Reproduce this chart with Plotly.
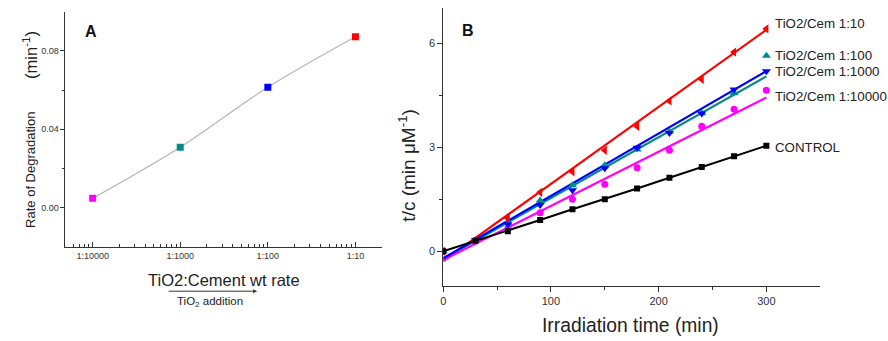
import plotly.graph_objects as go

# ---------------- Data: panel A ----------------
ratio_vals = [1e-4, 1e-3, 1e-2, 1e-1]
ratio_labels = ["1:10000", "1:1000", "1:100", "1:10"]
rate_vals = [0.0047, 0.0308, 0.0614, 0.0872]
rate_colors = ["#ff00ff", "#008b8b", "#0000ff", "#ff0000"]

# ---------------- Data: panel B ----------------
time_min = [0, 30, 60, 90, 120, 150, 180, 210, 240, 270, 300]
control = [0.0, 0.30, 0.58, 0.90, 1.21, 1.50, 1.81, 2.12, 2.43, 2.74, 3.04]
cem_10 = [0.0, 0.33, 0.95, 1.70, 2.29, 2.91, 3.60, 4.33, 4.95, 5.74, 6.41]
cem_100 = [0.0, 0.32, 0.82, 1.46, 1.90, 2.48, 2.93, 3.45, 3.98, 4.55, 5.63]
cem_1000 = [0.0, 0.32, 0.78, 1.33, 1.76, 2.39, 2.98, 3.41, 3.97, 4.66, 5.19]
cem_10000 = [0.0, 0.30, 0.66, 1.11, 1.50, 1.93, 2.41, 2.91, 3.60, 4.09, 4.64]

fit_x = [0, 300]
fit_10 = [-0.28, 6.38]
fit_100 = [-0.22, 5.04]
fit_1000 = [-0.20, 5.19]
fit_10000 = [-0.25, 4.43]

label_x = 306
series_labels = ["TiO2/Cem 1:10", "TiO2/Cem 1:100", "TiO2/Cem 1:1000", "TiO2/Cem 1:10000", "CONTROL"]
label_y = [6.56, 5.65, 5.17, 4.45, 2.98]

W, H = 888, 341
FONT = "Arial, Liberation Sans, sans-serif"
AX = "#333333"

def px(x):
    return x / W

def py(y):
    return 1 - y / H

fig = go.Figure()

# Panel A
fig.add_trace(go.Scatter(x=ratio_vals, y=rate_vals, mode="lines", line=dict(color="#b5b5b5", width=1.2, shape="spline"),
                         xaxis="x", yaxis="y", showlegend=False, hoverinfo="skip"))
fig.add_trace(go.Scatter(x=ratio_vals, y=rate_vals, mode="markers",
                         marker=dict(symbol="square", size=7, color=rate_colors),
                         xaxis="x", yaxis="y", showlegend=False))

# Panel B fits
fits = [(fit_10, "#ff0000"), (fit_100, "#008b8b"), (fit_10000, "#ff00ff"), (fit_1000, "#0000ff")]
for vals, col in fits:
    fig.add_trace(go.Scatter(x=fit_x, y=vals, mode="lines", line=dict(color=col, width=2.2),
                             xaxis="x2", yaxis="y2", showlegend=False))
# Panel B markers
pts = [(cem_10000, "#ff00ff", "circle", 7), (cem_100, "#008b8b", "triangle-up", 8),
       (cem_1000, "#0000ff", "triangle-down", 8), (cem_10, "#ff0000", "triangle-left", 8)]
for vals, col, sym, sz in pts:
    fig.add_trace(go.Scatter(x=time_min, y=vals, mode="markers",
                             marker=dict(symbol=sym, size=sz, color=col),
                             xaxis="x2", yaxis="y2", showlegend=False))
fig.add_trace(go.Scatter(x=time_min, y=control, mode="lines+markers",
                         line=dict(color="#000000", width=2),
                         marker=dict(symbol="square", size=6, color="#000000"),
                         xaxis="x2", yaxis="y2", showlegend=False))

minor_log = [m * 10 ** e for e in range(-5, 0) for m in range(2, 10)]

fig.update_layout(
    width=W, height=H,
    margin=dict(l=0, r=0, t=0, b=0),
    paper_bgcolor="white", plot_bgcolor="white",
    font=dict(family=FONT, color="#333"),
    xaxis=dict(domain=[px(62.7), px(380)], type="log", range=[-4.31, -0.70],
               tickmode="array", tickvals=ratio_vals, ticktext=ratio_labels,
               ticks="inside", ticklen=5, tickcolor=AX,
               minor=dict(tickmode="array", tickvals=minor_log, ticks="inside", ticklen=2.5, tickcolor=AX),
               showline=True, linecolor=AX, linewidth=1, showgrid=False, zeroline=False,
               tickfont=dict(size=9, color="#333"), anchor="y"),
    yaxis=dict(domain=[py(246.7), py(11.7)], range=[-0.02, 0.10],
               tickmode="array", tickvals=[0, 0.04, 0.08], ticktext=["0.00", "0.04", "0.08"],
               ticks="outside", ticklen=4, tickcolor=AX,
               minor=dict(tickmode="array", tickvals=[0.02, 0.06], ticks="outside", ticklen=2.5, tickcolor=AX),
               showline=True, linecolor=AX, linewidth=1, showgrid=False, zeroline=False,
               tickfont=dict(size=9, color="#333"), anchor="x"),
    xaxis2=dict(domain=[px(441.7), px(820)], range=[0, 350],
                tickmode="array", tickvals=[0, 100, 200, 300],
                ticks="outside", ticklen=5, tickcolor=AX,
                minor=dict(tickmode="array", tickvals=[50, 150, 250], ticks="outside", ticklen=3, tickcolor=AX),
                showline=True, linecolor=AX, linewidth=1, showgrid=False, zeroline=False,
                tickfont=dict(size=11, color="#333"), anchor="y2"),
    yaxis2=dict(domain=[py(286), py(8.3)], range=[-1, 7],
                tickmode="array", tickvals=[0, 3, 6],
                ticks="outside", ticklen=5, tickcolor=AX,
                minor=dict(tickmode="array", tickvals=[1.5, 4.5], ticks="outside", ticklen=3, tickcolor=AX),
                showline=True, linecolor=AX, linewidth=1, showgrid=False, zeroline=False,
                tickfont=dict(size=11, color="#333"), anchor="x2"),
)

ann = []
def pa(text, x, y, size, angle=0, bold=False, color="#222"):
    t = f"<b>{text}</b>" if bold else text
    ann.append(dict(text=t, x=px(x), y=py(y), xref="paper", yref="paper", showarrow=False,
                    textangle=angle, font=dict(size=size, family=FONT, color=color),
                    xanchor="center", yanchor="middle"))

pa("A", 88, 31, 16, bold=True, color="#111")
pa("B", 467, 30, 16, bold=True, color="#111")
pa("Rate of Degradation", 27, 170, 13, angle=-90)
pa("(min<sup>-1</sup>)", 27, 55, 16.5, angle=-90)
pa("TiO2:Cement wt rate", 222, 280, 16.5)
pa("TiO<sub>2</sub> addition", 208, 302, 11.5)
pa("t/c (min \u03bcM<sup>-1</sup>)", 405, 165, 19, angle=-90)
pa("Irradiation time (min)", 630, 325, 19.3)

# arrow under panel A title
ann.append(dict(x=px(255), y=py(291.2), ax=-90, ay=0, xref="paper", yref="paper",
                axref="pixel", ayref="pixel", showarrow=True, arrowhead=2, arrowsize=0.8,
                arrowwidth=1, arrowcolor="#333", text=""))

for lab, ly in zip(series_labels, label_y):
    ann.append(dict(text=lab, x=label_x, y=ly, xref="x2", yref="y2", showarrow=False,
                    xanchor="left", yanchor="middle", font=dict(size=13.3, family=FONT, color="#222")))

fig.update_layout(annotations=ann)
fig.write_html("out.html", config={"displayModeBar": False},
               post_script="document.body.style.margin='0';document.body.style.padding='0';document.body.style.overflow='hidden';")
